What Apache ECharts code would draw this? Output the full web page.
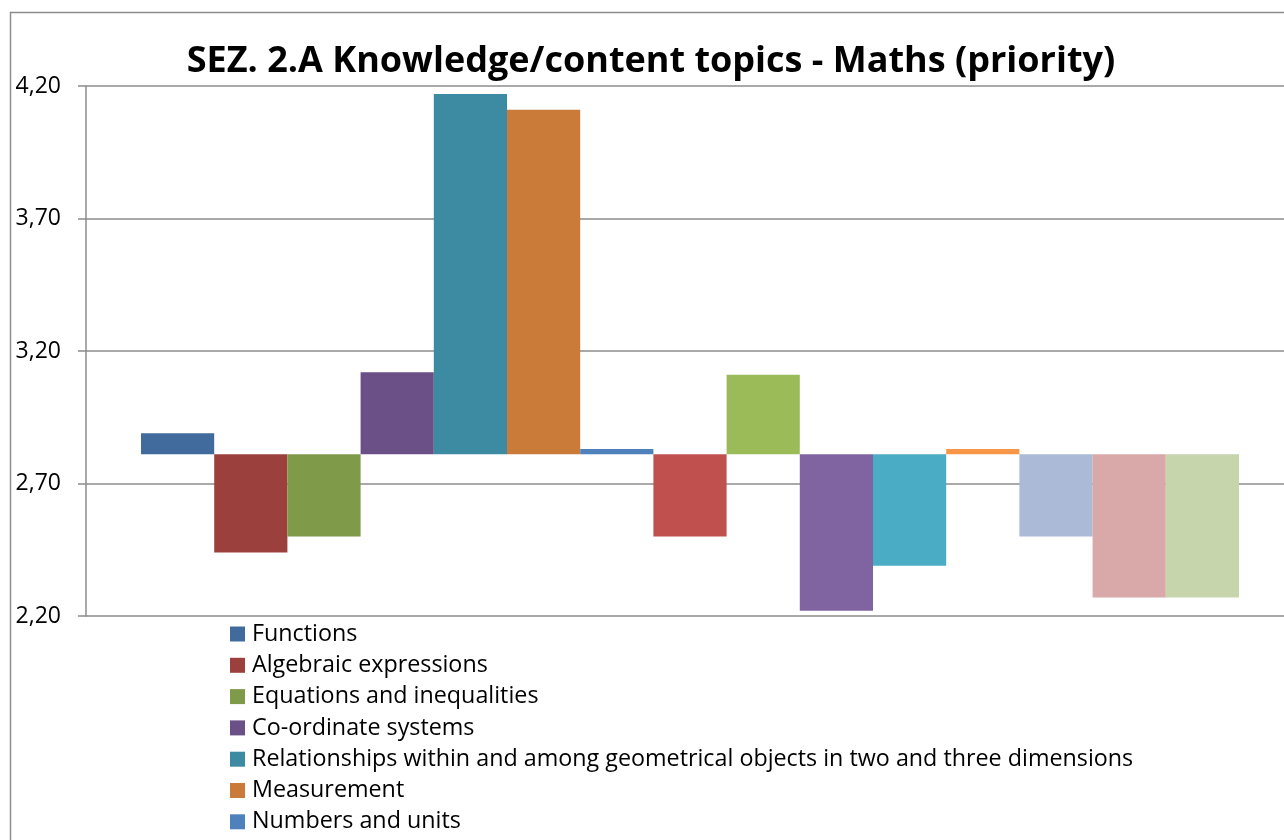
<!DOCTYPE html>
<html>
<head>
<meta charset="utf-8">
<script src="https://cdn.jsdelivr.net/npm/echarts@6/dist/echarts.min.js"></script>
<style>
  html, body { margin: 0; padding: 0; background: #fff; }
  #chart { width: 1284px; height: 840px; }
</style>
</head>
<body>
<div id="chart"></div>
<script>
// series names (only the first seven are visible in the legend, the rest fall below the picture)
const topics = [
    'Functions',
    'Algebraic expressions',
    'Equations and inequalities',
    'Co-ordinate systems',
    'Relationships within and among geometrical objects in two and three dimensions',
    'Measurement',
    'Numbers and units',
    'Number operations',
    'Proportionality',
    'Patterns and sequences',
    'Geometric transformations',
    'Estimation',
    'Data representation',
    'Data interpretation',
    'Chance and probability',
];
// mean priority scores
const scores = [2.89, 2.44, 2.50, 3.12, 4.17, 4.11, 2.83, 2.50, 3.11, 2.22, 2.39, 2.83, 2.50, 2.27, 2.27];
// value where the horizontal axis crosses (bars grow up or down from here)
const crossAt = 2.81;
const yTicks = [2.2, 2.7, 3.2, 3.7, 4.2];

const colors = [
    '#416a9d', '#9c403e', '#7f9a48', '#6a5087', '#3c8ba3', '#cb7b39',
    '#4f81bd', '#c0504d', '#9bbb59', '#8064a2', '#4bacc6', '#f79646',
    '#aabad7', '#d9a9a9', '#c6d5ab',
];

const font = '"Open Sans", "DejaVu Sans", sans-serif';
const lineColor = '#8c8c8c';

const series = [];
topics.forEach((name, i) => {
    const v = scores[i];
    // invisible part of the stack, up to the lower end of the visible bar
    series.push({
        type: 'bar',
        xAxisIndex: 1,
        yAxisIndex: 1,
        stack: 'topic' + i,
        silent: true,
        barGap: '0%',
        barCategoryGap: '7.576%',
        itemStyle: {color: 'rgba(0,0,0,0)'},
        data: [Math.min(v, crossAt)],
    });
    series.push({
        name: name,
        type: 'bar',
        xAxisIndex: 1,
        yAxisIndex: 1,
        stack: 'topic' + i,
        barGap: '0%',
        barCategoryGap: '7.576%',
        itemStyle: {color: colors[i]},
        data: [Math.abs(v - crossAt)],
    });
});

const hiddenCategory = {
    type: 'category',
    data: [''],
    axisLine: {show: false},
    axisTick: {show: false},
    axisLabel: {show: false},
};

const chart = echarts.init(document.getElementById('chart'));
chart.setOption({
    animation: false,
    backgroundColor: '#fff',
    graphic: [
        {
            type: 'rect',
            silent: true,
            shape: {x: 10.5, y: 12.5, width: 1400, height: 1000},
            style: {fill: null, stroke: lineColor, lineWidth: 1.5},
        },
        {
            type: 'text',
            x: 651,
            y: 62,
            style: {
                text: 'SEZ. 2.A Knowledge/content topics - Maths (priority)',
                font: 'bold 36px ' + font,
                fill: '#000',
                textAlign: 'center',
                textVerticalAlign: 'middle',
            },
        },
    ],
    legend: {
        data: topics,
        orient: 'vertical',
        left: 230,
        top: 622,
        height: 700,
        padding: 0,
        itemGap: 7.3,
        itemWidth: 15,
        itemHeight: 15,
        icon: 'rect',
        selectedMode: false,
        textStyle: {fontFamily: font, fontSize: 23.3, lineHeight: 24, color: '#000', padding: [0, 0, 0, 2]},
    },
    // grid 0 carries the visible value axis, grid 1 the bars
    grid: [
        {left: 86, right: 0, top: 86, bottom: 224},
        {left: 96, right: 0, top: 86, bottom: 224},
    ],
    xAxis: [
        Object.assign({gridIndex: 0}, hiddenCategory),
        Object.assign({gridIndex: 1}, hiddenCategory),
    ],
    yAxis: [
        {
            type: 'value',
            gridIndex: 0,
            min: yTicks[0],
            max: yTicks[yTicks.length - 1],
            interval: 0.5,
            axisLine: {show: true, lineStyle: {color: lineColor, width: 1.5}},
            axisTick: {show: true, length: 8, lineStyle: {color: lineColor, width: 1.5}},
            splitLine: {show: true, lineStyle: {color: lineColor, width: 1.5}},
            axisLabel: {
                margin: 25,
                color: '#000',
                fontFamily: font,
                fontSize: 23,
                formatter: v => v.toFixed(2).replace('.', ','),
            },
        },
        {
            type: 'value',
            gridIndex: 1,
            min: yTicks[0],
            max: yTicks[yTicks.length - 1],
            show: false,
            splitLine: {show: false},
        },
    ],
    series: series,
});
</script>
</body>
</html>
